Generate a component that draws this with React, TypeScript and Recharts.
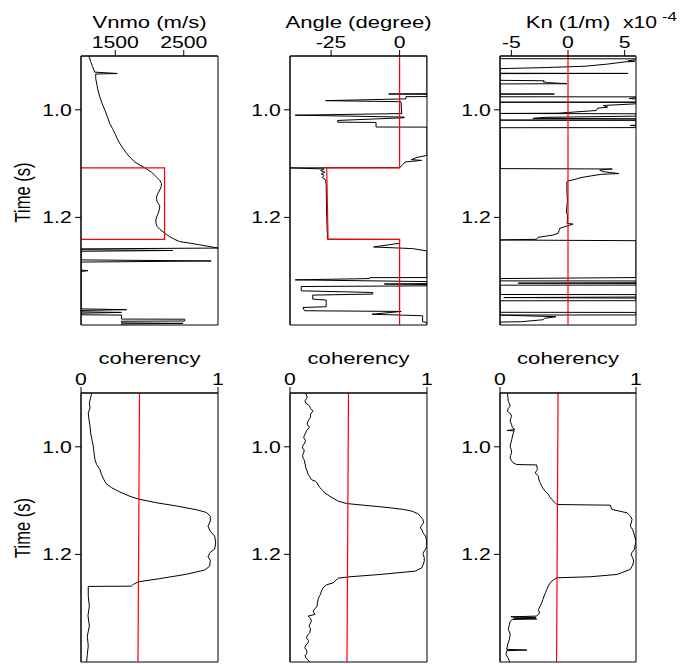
import React from 'react';
import { LineChart, Line, XAxis, YAxis, ReferenceArea } from 'recharts';

const FONT = '"Liberation Sans", Arial, Helvetica, sans-serif';
const SX = 1.3;

type Pt = [number, number];

// ---------- tick labels ----------
const timeTicks = [1.0, 1.2];
const vnmoTicks = [1500, 2500];
const angleTicks = [-25, 0];
const knTicks = [-5, 0, 5];
const cohTicks = [0, 1];

// ---------- data: [time (s), value] ----------
const vnmoCurve: Pt[] = [
  [0.9, 1115], [0.91, 1140], [0.92, 1170], [0.93, 1200], [0.9325, 1530], [0.9335, 1215],
  [0.942, 1215], [0.952, 1230], [0.965, 1250], [0.977, 1277], [0.989, 1310], [1.001, 1350],
  [1.013, 1385], [1.026, 1422], [1.035, 1460], [1.044, 1495], [1.054, 1530], [1.063, 1568],
  [1.072, 1615], [1.081, 1665], [1.089, 1720], [1.097, 1786], [1.102, 1850], [1.106, 1907],
  [1.111, 1970], [1.116, 2029], [1.121, 2070], [1.125, 2102], [1.131, 2150], [1.137, 2175],
  [1.143, 2170], [1.149, 2150], [1.156, 2120], [1.162, 2102], [1.167, 2105], [1.171, 2112],
  [1.176, 2140], [1.18, 2150], [1.187, 2140], [1.193, 2126], [1.199, 2105], [1.205, 2092],
  [1.211, 2095], [1.217, 2111], [1.222, 2150], [1.227, 2198], [1.232, 2250], [1.236, 2296],
  [1.241, 2370], [1.245, 2441], [1.248, 2600], [1.251, 2733], [1.254, 2870], [1.257, 3000],
  [1.2585, 1000], [1.26, 1000], [1.2615, 2340], [1.263, 1000], [1.279, 1000], [1.281, 2900],
  [1.283, 1000], [1.298, 1000], [1.299, 1100], [1.3005, 1000], [1.37, 1000], [1.3715, 1665],
  [1.373, 1000], [1.3755, 1000], [1.3766, 1590], [1.378, 1000], [1.381, 1000], [1.3815, 1592],
  [1.389, 1592], [1.3892, 2514], [1.3926, 2514], [1.393, 1592], [1.396, 1592], [1.397, 2490],
  [1.398, 1592], [1.4, 1592],
];
const vnmoBox: Pt[] = [[1.108, 1000], [1.108, 2220], [1.241, 2220], [1.241, 1000]];

const angleCurve: Pt[] = [
  [0.9, 10], [0.97, 10], [0.9706, -4.0], [0.9712, 10], [0.9754, 10], [0.9756, 2.3],
  [0.9797, 2.3], [0.983, -27.0], [0.985, 0.5], [1.007, 0.8], [1.01, -38.1], [1.0135, 1.7],
  [1.0148, 1.7], [1.0198, -22.6], [1.023, -22.6], [1.0235, -8.6], [1.032, -8.6], [1.0322, 10],
  [1.0846, 10], [1.089, 6], [1.0926, 4.3], [1.094, 8], [1.097, 2], [1.103, 1], [1.1075, 0],
  [1.108, -40], [1.11, -27.5], [1.113, -28.8], [1.116, -27.3], [1.119, -28.6], [1.122, -27.6],
  [1.126, -28.2], [1.13, -27.0], [1.14, -26.8], [1.2, -26.6], [1.2405, -26.3], [1.241, 0],
  [1.248, 0], [1.255, -9.5], [1.258, 4.7], [1.2624, 10], [1.3118, 10], [1.312, -11.0],
  [1.3137, -11.0], [1.3161, -38.1], [1.3193, 10], [1.323, 10], [1.3238, -5.6], [1.3248, 10],
  [1.3272, 10], [1.3285, -35.9], [1.3365, -35.9], [1.3396, -9.8], [1.3426, -9.8],
  [1.3444, -31.7], [1.3519, -31.7], [1.3537, -26.8], [1.3661, -26.8], [1.3674, -35.3],
  [1.3735, -34.7], [1.3748, 0.6], [1.38, -10.1], [1.3828, 8.4], [1.3939, 8.4], [1.3952, 10],
  [1.4, 10],
];
const angleRed: Pt[] = [[0.9, 0], [1.108, 0], [1.108, -26.6], [1.241, -26.1], [1.241, 0], [1.4, 0]];

const knCurve: Pt[] = [
  [0.9, -6], [0.905, -6], [0.9052, 6], [0.9068, 6], [0.909, 5.3], [0.91, 5.9], [0.911, 5.0],
  [0.915, 3.5], [0.919, 1.5], [0.9215, -2.0], [0.9235, -6], [0.932, -6], [0.9324, 5.3],
  [0.9328, -6], [0.9452, -6], [0.946, -2.1], [0.948, -2.2], [0.9494, -1.8], [0.9515, -0.1],
  [0.9519, -6], [0.9705, -6], [0.9707, -1.2], [0.971, -6], [0.9758, -6], [0.976, 6],
  [0.9775, 6], [0.979, 5.4], [0.98, 6], [0.9857, 6], [0.9859, -6], [0.9861, 6], [0.9889, 6],
  [0.992, 3.1], [0.9952, 3.5], [0.997, 2.6], [1.0013, 2.5], [1.0063, -0.9], [1.0068, -6],
  [1.0074, 6], [1.0118, 6], [1.014, -2.0], [1.016, -3.1], [1.0165, 6], [1.019, 6],
  [1.0192, -6], [1.0194, 6], [1.0285, 6], [1.0291, 5.5], [1.0297, 6], [1.0331, 6],
  [1.0333, -6], [1.1093, -6], [1.11, 3.9], [1.112, 2.8], [1.115, 3.1], [1.1185, 4.5],
  [1.12, 2.9], [1.123, 2.0], [1.126, 1.15], [1.13, 0.5], [1.1322, 0], [1.1341, -0.1],
  [1.15, -0.1], [1.17, -0.05], [1.19, -0.15], [1.195, -0.05], [1.205, -0.05], [1.2111, -0.09],
  [1.2124, 0.44], [1.2174, -0.29], [1.2204, -0.73], [1.225, -0.8], [1.2296, -0.88],
  [1.2328, -1.32], [1.237, -2.64], [1.2407, -2.78], [1.2415, -5.2], [1.242, -6], [1.2433, 6],
  [1.3118, 6], [1.3137, -6], [1.318, -6], [1.3182, 6], [1.3215, 6], [1.3222, -4.4],
  [1.3228, 6], [1.3258, 6], [1.326, -6], [1.3433, -6], [1.3435, 6], [1.348, 6],
  [1.349, -5.66], [1.35, 6], [1.3548, 6], [1.355, -6], [1.3764, -6], [1.3766, 6],
  [1.3813, 6], [1.3815, -6], [1.3846, -1.06], [1.3877, -2.08], [1.3902, -2.2],
  [1.3939, -4.1], [1.3945, -6], [1.4, -6],
];
const knRed: Pt[] = [[0.9, 0], [1.4, 0]];

const coh1: Pt[] = [
  [0.9, 0.078], [0.909, 0.07], [0.918, 0.061], [0.928, 0.066], [0.937, 0.053], [0.949, 0.058],
  [0.962, 0.066], [0.974, 0.07], [0.987, 0.08], [0.999, 0.09], [1.011, 0.095], [1.024, 0.102],
  [1.033, 0.114], [1.042, 0.138], [1.052, 0.15], [1.061, 0.167], [1.068, 0.182], [1.076, 0.223],
  [1.084, 0.284], [1.092, 0.357], [1.097, 0.417], [1.104, 0.551], [1.11, 0.697], [1.117, 0.842],
  [1.122, 0.915], [1.129, 0.944], [1.138, 0.944], [1.148, 0.927], [1.157, 0.944], [1.166, 0.976],
  [1.179, 0.983], [1.19, 0.976], [1.196, 0.944], [1.204, 0.927], [1.211, 0.944], [1.222, 0.939],
  [1.229, 0.903], [1.237, 0.769], [1.245, 0.575], [1.251, 0.417], [1.256, 0.381], [1.259, 0.369],
  [1.2595, 0.053], [1.277, 0.053], [1.296, 0.061], [1.314, 0.051], [1.333, 0.061], [1.352, 0.046],
  [1.37, 0.053], [1.386, 0.046], [1.4, 0.041],
];
const coh2: Pt[] = [
  [0.9, 0.115], [0.905, 0.122], [0.909, 0.125], [0.914, 0.11], [0.919, 0.115], [0.922, 0.135],
  [0.925, 0.144], [0.929, 0.15], [0.934, 0.169], [0.937, 0.155], [0.94, 0.149], [0.945, 0.15],
  [0.949, 0.14], [0.954, 0.128], [0.959, 0.125], [0.962, 0.14], [0.965, 0.139], [0.97, 0.12],
  [0.974, 0.115], [0.979, 0.105], [0.983, 0.1], [0.988, 0.112], [0.993, 0.108], [0.997, 0.095],
  [1.002, 0.09], [1.006, 0.104], [1.011, 0.1], [1.016, 0.092], [1.021, 0.095], [1.025, 0.105],
  [1.03, 0.108], [1.034, 0.112], [1.039, 0.115], [1.045, 0.125], [1.051, 0.132], [1.056, 0.145],
  [1.061, 0.156], [1.064, 0.185], [1.067, 0.198], [1.071, 0.205], [1.076, 0.218], [1.08, 0.235],
  [1.086, 0.254], [1.089, 0.275], [1.092, 0.291], [1.097, 0.325], [1.101, 0.352], [1.1055, 0.413],
  [1.1085, 0.535], [1.111, 0.64], [1.1134, 0.731], [1.1165, 0.83], [1.1196, 0.89], [1.124, 0.93],
  [1.129, 0.951], [1.135, 0.97], [1.1413, 0.976], [1.146, 0.96], [1.1506, 0.951], [1.155, 0.965],
  [1.16, 0.971], [1.166, 0.99], [1.1722, 0.995], [1.185, 1.0], [1.1908, 0.988], [1.196, 0.975],
  [1.2, 0.971], [1.206, 0.98], [1.2125, 0.98], [1.219, 0.972], [1.2249, 0.963], [1.2311, 0.914],
  [1.2373, 0.658], [1.2416, 0.438], [1.2441, 0.352], [1.2528, 0.315], [1.2565, 0.267],
  [1.2621, 0.242], [1.268, 0.23], [1.2744, 0.222], [1.279, 0.212], [1.2837, 0.205], [1.29, 0.2],
  [1.2961, 0.198], [1.3, 0.185], [1.3054, 0.169], [1.3116, 0.181], [1.3147, 0.132], [1.319, 0.15],
  [1.324, 0.156], [1.3333, 0.139], [1.338, 0.15], [1.3457, 0.144], [1.35, 0.128], [1.355, 0.12],
  [1.36, 0.135], [1.3643, 0.132], [1.369, 0.115], [1.3736, 0.108], [1.378, 0.12], [1.3829, 0.125],
  [1.388, 0.11], [1.3922, 0.115], [1.396, 0.13], [1.4, 0.144],
];
const coh3: Pt[] = [
  [0.9, 0.054], [0.908, 0.058], [0.9153, 0.061], [0.92, 0.07], [0.9246, 0.074], [0.929, 0.06],
  [0.934, 0.054], [0.938, 0.075], [0.9432, 0.086], [0.948, 0.078], [0.9525, 0.074], [0.958, 0.085],
  [0.964, 0.09], [0.968, 0.11], [0.9695, 0.054], [0.9705, 0.105], [0.9742, 0.098], [0.98, 0.092],
  [0.9866, 0.086], [0.993, 0.08], [0.999, 0.074], [1.005, 0.082], [1.0113, 0.086], [1.016, 0.078],
  [1.0206, 0.074], [1.026, 0.085], [1.03, 0.098], [1.033, 0.123], [1.0337, 0.27], [1.038, 0.272],
  [1.0423, 0.275], [1.0485, 0.258], [1.0546, 0.283], [1.06, 0.285], [1.064, 0.29], [1.068, 0.298],
  [1.0732, 0.307], [1.078, 0.318], [1.0825, 0.332], [1.0887, 0.356], [1.093, 0.366], [1.098, 0.381],
  [1.104, 0.405], [1.1073, 0.418], [1.1085, 0.811], [1.1165, 0.823], [1.1227, 0.934], [1.129, 0.96],
  [1.1351, 0.971], [1.1475, 0.958], [1.154, 0.975], [1.16, 0.983], [1.1754, 1.0], [1.1909, 0.988],
  [1.196, 0.972], [1.2, 0.963], [1.206, 0.975], [1.2125, 0.983], [1.22, 0.975], [1.228, 0.958],
  [1.2373, 0.86], [1.2416, 0.663], [1.2435, 0.418], [1.248, 0.39], [1.2528, 0.369], [1.259, 0.355],
  [1.2652, 0.344], [1.271, 0.335], [1.2775, 0.324], [1.284, 0.315], [1.29, 0.307], [1.296, 0.295],
  [1.3023, 0.283], [1.309, 0.29], [1.3147, 0.27], [1.316, 0.08], [1.3175, 0.265], [1.3185, 0.1],
  [1.32, 0.27], [1.321, 0.09], [1.325, 0.074], [1.332, 0.068], [1.3394, 0.061], [1.348, 0.075],
  [1.358, 0.069], [1.366, 0.058], [1.3765, 0.049], [1.3778, 0.197], [1.379, 0.05], [1.3858, 0.044],
  [1.392, 0.058], [1.398, 0.069], [1.4, 0.066],
];
const cohRed: Pt[] = [[0.9, 0.427], [1.4, 0.416]];

// ---------- helpers ----------
const toData = (pts: Pt[]) => pts.map(([t, v]) => ({ t, v }));

const TopTick = (props: any) => {
  const { x, y, payload } = props;
  return (
    <text transform={`translate(${x},${y}) scale(${SX},1)`} textAnchor="middle"
      fontSize={16.3} fontFamily={FONT} fill="#000">{String(payload.value)}</text>
  );
};
const LeftTick = (props: any) => {
  const { x, y, payload } = props;
  return (
    <text transform={`translate(${x},${y}) scale(${SX},1)`} textAnchor="end" dy="0.36em"
      fontSize={16.3} fontFamily={FONT} fill="#000">{Number(payload.value).toFixed(1)}</text>
  );
};

type Series = { pts: Pt[]; color: string; width: number };

function Panel({ left, top, w, h, domain, xTicks, series }:
  { left: number; top: number; w: number; h: number; domain: [number, number]; xTicks: number[]; series: Series[] }) {
  const ML = 60, MT = 56;
  return (
    <div style={{ position: 'absolute', left: left - ML, top: top - MT }}>
      <LineChart layout="vertical" width={ML + w + 10} height={MT + h + 6}
        margin={{ top: MT - 30, left: ML - 40, right: 10, bottom: 6 }}>
        <XAxis type="number" orientation="top" domain={domain} ticks={xTicks} height={30}
          tickSize={6} tickMargin={2.3} tick={<TopTick />} interval={0} allowDataOverflow
          axisLine={{ stroke: '#000' }} tickLine={{ stroke: '#000' }} />
        <YAxis type="number" dataKey="t" domain={[0.9, 1.4]} ticks={timeTicks} width={40}
          tickSize={6} tickMargin={3.3} tick={<LeftTick />} interval={0} allowDataOverflow
          axisLine={{ stroke: '#000' }} tickLine={{ stroke: '#000' }} />
        <ReferenceArea x1={domain[0]} x2={domain[1]} y1={0.9} y2={1.4} fill="none" fillOpacity={0}
          stroke="#000" strokeWidth={1} />
        {series.map((s, i) => (
          <Line key={i} data={toData(s.pts)} dataKey="v" stroke={s.color} strokeWidth={s.width}
            dot={false} activeDot={false} isAnimationActive={false} type="linear" />
        ))}
      </LineChart>
    </div>
  );
}

const T = (p: { x: number; y: number; size?: number; anchor?: string; children: React.ReactNode }) => (
  <text transform={`translate(${p.x},${p.y}) scale(${SX},1)`} textAnchor={p.anchor || 'middle'}
    fontSize={p.size || 17} fontFamily={FONT} fill="#000">{p.children}</text>
);

export default function App() {
  const black = '#000';
  const red = '#ff0000';
  const topY = 56, botY = 393, H = 269;
  return (
    <div style={{ position: 'absolute', left: 0, top: 0, width: 685, height: 664, background: '#fff' }}>
      <Panel left={81} top={topY} w={137} h={H} domain={[1000, 3000]} xTicks={vnmoTicks}
        series={[{ pts: vnmoCurve, color: black, width: 1 }, { pts: vnmoBox, color: red, width: 1.2 }]} />
      <Panel left={290} top={topY} w={137} h={H} domain={[-40, 10]} xTicks={angleTicks}
        series={[{ pts: angleCurve, color: black, width: 1 }, { pts: angleRed, color: red, width: 1.2 }]} />
      <Panel left={500} top={topY} w={136} h={H} domain={[-6, 6]} xTicks={knTicks}
        series={[{ pts: knCurve, color: black, width: 1 }, { pts: knRed, color: red, width: 1.2 }]} />
      <Panel left={81} top={botY} w={137} h={H} domain={[0, 1]} xTicks={cohTicks}
        series={[{ pts: coh1, color: black, width: 1 }, { pts: cohRed, color: red, width: 1.2 }]} />
      <Panel left={290} top={botY} w={137} h={H} domain={[0, 1]} xTicks={cohTicks}
        series={[{ pts: coh2, color: black, width: 1 }, { pts: cohRed, color: red, width: 1.2 }]} />
      <Panel left={500} top={botY} w={136} h={H} domain={[0, 1]} xTicks={cohTicks}
        series={[{ pts: coh3, color: black, width: 1 }, { pts: cohRed, color: red, width: 1.2 }]} />
      <svg width={685} height={664} style={{ position: 'absolute', left: 0, top: 0, pointerEvents: 'none' }}>
        <T x={149.5} y={28}>Vnmo (m/s)</T>
        <T x={358.5} y={28}>Angle (degree)</T>
        <T x={568} y={28}>Kn (1/m)</T>
        <T x={623} y={28} size={16.3} anchor="start">x10</T>
        <T x={662} y={20.5} size={13} anchor="start">-4</T>
        <T x={149.5} y={364}>coherency</T>
        <T x={358.5} y={364}>coherency</T>
        <T x={568} y={364}>coherency</T>
        <text transform={`translate(29.5,192.5) scale(${SX},1) rotate(-90)`} textAnchor="middle"
          fontSize={16.5} fontFamily={FONT} fill="#000">Time (s)</text>
        <text transform={`translate(29.5,528) scale(${SX},1) rotate(-90)`} textAnchor="middle"
          fontSize={16.5} fontFamily={FONT} fill="#000">Time (s)</text>
      </svg>
    </div>
  );
}
